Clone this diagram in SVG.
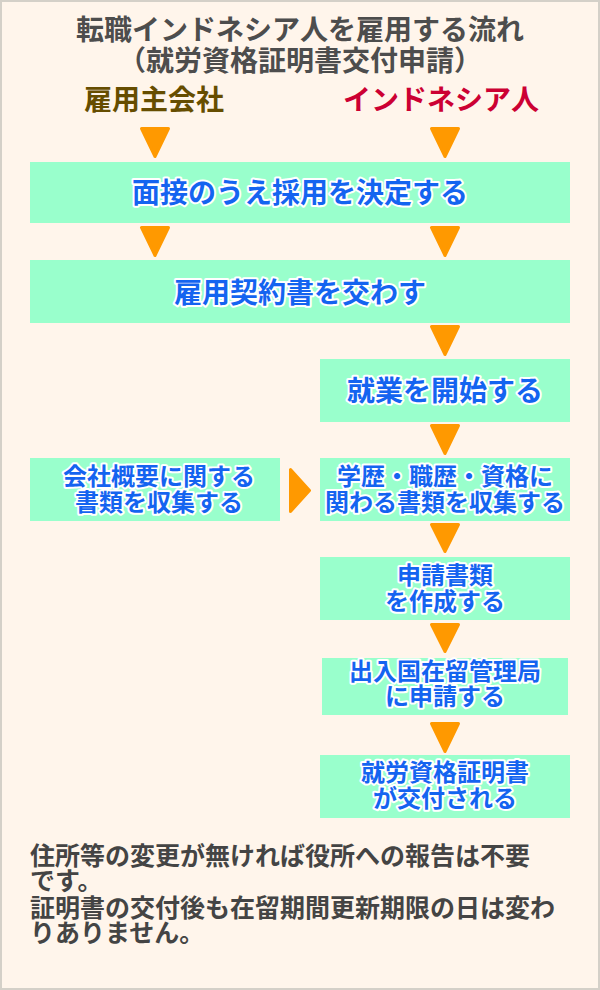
<svg xmlns="http://www.w3.org/2000/svg" width="600" height="990" viewBox="0 0 600 990">
<defs>
<style>
.bg{fill:#fff5eb;stroke:#d4d0c8;stroke-width:2}
.box{fill:#99ffcc}
.tri{fill:#ff9900;stroke:#ff9900;stroke-width:3;stroke-linejoin:round}
.bt{font-family:"Noto Sans CJK JP","Noto Sans CJK SC",sans-serif;font-weight:700;fill:#1464f0;stroke:#ffffff;stroke-width:4;stroke-linejoin:round;paint-order:stroke;text-anchor:middle}
.b28{font-size:28px}
.b24{font-size:24px}
.title{font-family:"Noto Sans CJK JP","Noto Sans CJK SC",sans-serif;font-weight:700;font-size:28px;fill:#4d4d4d;text-anchor:middle}
.head{font-family:"Noto Sans CJK JP","Noto Sans CJK SC",sans-serif;font-weight:700;font-size:28px;text-anchor:middle}
.note{font-family:"Noto Sans CJK JP","Noto Sans CJK SC",sans-serif;font-weight:700;font-size:25px;fill:#444444}
</style>
</defs>
<rect class="bg" x="1" y="1" width="598" height="988"/>

<g id="title">
<text class="title" x="300" y="40">転職インドネシア人を雇用する流れ</text>
<text class="title" x="300" y="71">（就労資格証明書交付申請）</text>
</g>
<g id="employer"><text class="head" x="154" y="110" fill="#664d00">雇用主会社</text></g>
<g id="indonesian"><text class="head" x="441" y="110" fill="#cc0033">インドネシア人</text></g>

<g id="connectors">
<path class="tri" d="M141.5,128.5 L168.5,128.5 L155,156.5 Z"/>
<path class="tri" d="M431.5,128.5 L458.5,128.5 L445,156.5 Z"/>
<path class="tri" d="M141.5,227.5 L168.5,227.5 L155,255.5 Z"/>
<path class="tri" d="M431.5,227.5 L458.5,227.5 L445,255.5 Z"/>
<path class="tri" d="M431.5,326.5 L458.5,326.5 L445,354.5 Z"/>
<path class="tri" d="M431.5,425.5 L458.5,425.5 L445,453.5 Z"/>
<path class="tri" d="M290.5,469.5 L290.5,511.5 L309.5,490.5 Z"/>
<path class="tri" d="M431.5,524.5 L458.5,524.5 L445,551.5 Z"/>
<path class="tri" d="M431.5,624.5 L458.5,624.5 L445,651.5 Z"/>
<path class="tri" d="M431.5,723.5 L458.5,723.5 L445,751.5 Z"/>
</g>

<g id="n1">
<rect class="box" x="30" y="162" width="540" height="61"/>
<text class="bt b28" x="300" y="203">面接のうえ採用を決定する</text>
</g>
<g id="n2">
<rect class="box" x="30" y="260" width="540" height="63"/>
<text class="bt b28" x="300" y="303">雇用契約書を交わす</text>
</g>
<g id="n3">
<rect class="box" x="320" y="359" width="250" height="63"/>
<text class="bt b28" x="445" y="401">就業を開始する</text>
</g>
<g id="n4a">
<rect class="box" x="30" y="458" width="250" height="63"/>
<text class="bt b24" x="159" y="485">会社概要に関する</text>
<text class="bt b24" x="159" y="511">書類を収集する</text>
</g>
<g id="n4">
<rect class="box" x="320" y="458" width="250" height="63"/>
<text class="bt b24" x="445" y="485">学歴・職歴・資格に</text>
<text class="bt b24" x="445" y="511">関わる書類を収集する</text>
</g>
<g id="n5">
<rect class="box" x="320" y="557" width="250" height="63"/>
<text class="bt b24" x="445" y="584">申請書類</text>
<text class="bt b24" x="445" y="610">を作成する</text>
</g>
<g id="n6">
<rect class="box" x="322" y="658" width="246" height="57"/>
<text class="bt b24" x="445" y="680">出入国在留管理局</text>
<text class="bt b24" x="445" y="705">に申請する</text>
</g>
<g id="n7">
<rect class="box" x="320" y="755" width="250" height="63"/>
<text class="bt b24" x="445" y="781">就労資格証明書</text>
<text class="bt b24" x="445" y="807">が交付される</text>
</g>

<g id="note">
<text class="note" x="30" y="865">住所等の変更が無ければ役所への報告は不要</text>
<text class="note" x="30" y="890">です。</text>
<text class="note" x="30" y="917">証明書の交付後も在留期間更新期限の日は変わ</text>
<text class="note" x="30" y="942">りありません。</text>
</g>
</svg>
